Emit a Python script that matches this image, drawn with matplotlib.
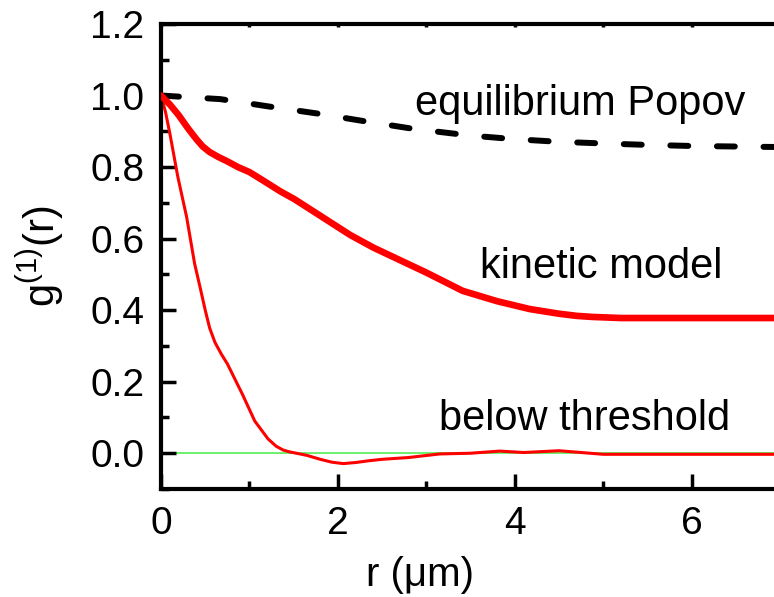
import matplotlib
matplotlib.use("Agg")
import matplotlib.pyplot as plt
from matplotlib.ticker import MultipleLocator, FormatStrFormatter

# ---- data ----
popov_r = [0, 0.67, 1.23, 1.76, 2.33, 2.85, 3.5, 4.0, 4.47, 5.0, 5.5, 6.0, 6.66, 7.0]
popov_g = [1.0, 0.99, 0.969, 0.95, 0.927, 0.907, 0.888, 0.878, 0.871, 0.866, 0.862, 0.859, 0.857, 0.856]

kinetic_r = [0, 0.1, 0.2, 0.3, 0.4, 0.47, 0.55, 0.65, 0.75, 0.87, 1.0, 1.17, 1.35, 1.51, 1.8, 2.14,
             2.4, 2.7, 3.0, 3.41, 3.8, 4.17, 4.5, 4.7, 4.88, 5.2, 7.0]
kinetic_g = [1.0, 0.975, 0.945, 0.91, 0.878, 0.858, 0.842, 0.828, 0.816, 0.80, 0.786, 0.76, 0.732, 0.71, 0.664, 0.61,
             0.575, 0.54, 0.505, 0.454, 0.425, 0.403, 0.39, 0.384, 0.381, 0.378, 0.378]

below_r = [0, 0.05, 0.1, 0.19, 0.29, 0.38, 0.45, 0.5, 0.55, 0.61, 0.68, 0.75, 0.83, 0.92, 1.06, 1.21,
           1.3, 1.38, 1.45, 1.53, 1.65, 1.8, 1.93, 2.06, 2.2, 2.35, 2.5, 2.8, 3.15, 3.5, 3.83,
           4.1, 4.5, 4.8, 5.0, 6.0, 7.0]
below_g = [1.0, 0.955, 0.894, 0.773, 0.66, 0.53, 0.455, 0.40, 0.35, 0.31, 0.278, 0.25, 0.21, 0.165, 0.09, 0.04,
           0.02, 0.009, 0.004, 0.0, -0.006, -0.017, -0.025, -0.029, -0.026, -0.021, -0.017, -0.012, -0.002, 0.0, 0.006,
           0.002, 0.007, 0.001, -0.003, -0.003, -0.003]

zero_r = [0, 7.0]
zero_g = [0, 0]

labels = ["equilibrium Popov", "kinetic model", "below threshold"]
# right end / baseline of each label, figure pixels from the top left
label_pos = [(745, 115), (722, 278), (730, 430)]

plt.rcParams["font.family"] = ["Liberation Sans", "DejaVu Sans"]
plt.rcParams["mathtext.default"] = "regular"

W, H = 774, 597
fig = plt.figure(figsize=(W / 100, H / 100), dpi=100)
ax = fig.add_axes([161 / W, 108 / H, 1 - 161 / W, 465 / H])

ax.plot(zero_r, zero_g, color="#44ee44", lw=1.1, zorder=1)
ax.plot(popov_r, popov_g, color="black", lw=4.3, linestyle=(0, (3, 4.8)),
        dash_capstyle="round", zorder=3)
ax.plot(kinetic_r, kinetic_g, color="#ff0000", lw=4.8, solid_capstyle="round", zorder=3)
ax.plot(below_r, below_g, color="#ff0000", lw=2.2, zorder=2)

for txt, (px, py) in zip(labels, label_pos):
    ax.annotate(txt, xy=(px, H - py), xycoords="figure pixels",
                fontsize=30, ha="right", va="baseline")

ax.set_xlim(0, 6.93)
ax.set_ylim(-0.1, 1.2)
ax.xaxis.set_major_locator(MultipleLocator(2))
ax.xaxis.set_minor_locator(MultipleLocator(1))
ax.yaxis.set_major_locator(MultipleLocator(0.2))
ax.yaxis.set_minor_locator(MultipleLocator(0.1))
ax.yaxis.set_major_formatter(FormatStrFormatter("%.1f"))

for side in ["left", "bottom", "top"]:
    ax.spines[side].set_linewidth(3)
ax.spines["right"].set_visible(False)

ax.tick_params(which="both", direction="in", width=2.5, labelsize=28, pad=12,
               top=True, right=False, labeltop=False)
ax.tick_params(which="major", length=11)
ax.tick_params(which="minor", length=6)
for t in ax.xaxis.get_major_ticks() + ax.xaxis.get_minor_ticks():
    t.tick2line.set_markersize(2)

ax.set_xlabel("r (\u03bcm)", fontsize=29)
ax.set_ylabel("g$^{(1)}$(r)", fontsize=30)
ax.xaxis.set_label_coords((420 - 161) / (W - 161), -(556 - 489) / 465)
ax.yaxis.set_label_coords(-(161 - 66) / (W - 161), 0.5)

fig.savefig("out.png", dpi=100)
